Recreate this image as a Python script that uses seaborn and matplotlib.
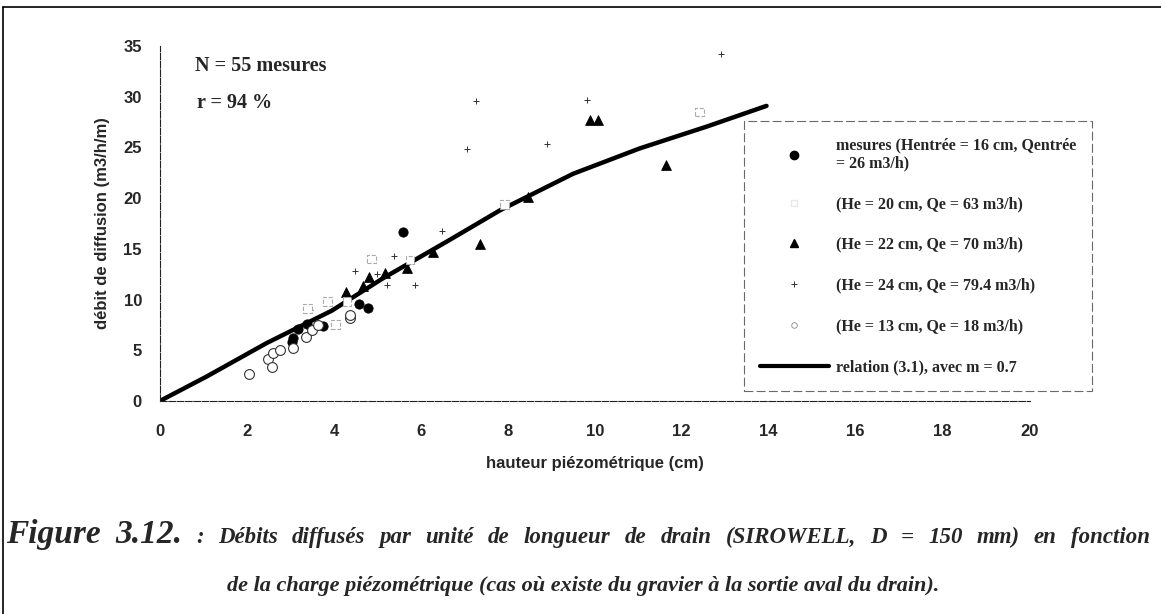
import pandas as pd
import matplotlib.pyplot as plt
import seaborn as sns
from matplotlib.lines import Line2D

# series (x = hauteur piezo cm, y = debit m3/h/m)
mes_x = [3.03, 3.06, 3.18, 3.37, 3.75, 4.58, 4.79, 5.58]
mes_y = [5.85, 6.2, 7.1, 7.56, 7.4, 9.57, 9.2, 16.7]

he20_x = [3.4, 3.85, 4.3, 4.04, 4.87, 5.75, 7.93, 12.41]
he20_y = [9.1, 9.8, 9.8, 7.55, 14.0, 13.9, 19.4, 28.5]

he22_x = [4.28, 4.66, 4.8, 5.17, 5.67, 6.28, 7.36, 8.47, 9.89, 10.08, 11.63]
he22_y = [10.7, 11.3, 12.2, 12.6, 13.1, 14.7, 15.5, 20.1, 27.7, 27.7, 23.3]

he24_x = [3.46, 4.48, 5.0, 5.21, 5.38, 5.86, 6.48, 7.05, 7.26, 8.89, 9.81, 12.91]
he24_y = [9.0, 12.8, 12.5, 11.45, 14.3, 11.4, 16.8, 24.8, 29.6, 25.3, 29.7, 34.2]

he13_x = [2.05, 2.49, 2.57, 2.6, 2.76, 3.05, 3.36, 3.49, 3.64, 4.37, 4.37]
he13_y = [2.65, 4.15, 3.35, 4.7, 5.0, 5.2, 6.3, 7.0, 7.5, 8.2, 8.5]

rel_x = [0, 1.07, 2.45, 3.95, 5.13, 6.63, 7.82, 9.5, 11.03, 12.57, 13.95]
rel_y = [0, 2.4, 5.7, 8.9, 12.1, 15.8, 18.8, 22.4, 24.9, 27.05, 29.1]

labels = ['mesures (Hentrée = 16 cm, Qentrée\n= 26 m3/h)',
          '(He = 20 cm, Qe = 63 m3/h)',
          '(He = 22 cm, Qe = 70 m3/h)',
          '(He = 24 cm, Qe = 79.4 m3/h)',
          '(He = 13 cm, Qe = 18 m3/h)',
          'relation (3.1), avec m = 0.7']

caption1 = ('Débits diffusés par unité de longueur de drain (SIROWELL, '
            'D = 150 mm) en fonction')
caption2 = ('de la charge piézométrique (cas où existe du gravier à la sortie '
            'aval du drain).')

sns.set_style('white')
plt.rcParams['font.family'] = ['Liberation Sans', 'DejaVu Sans']

fig = plt.figure(figsize=(11.61, 6.14), dpi=100)
ax = fig.add_axes([0.1378, 0.347, 0.749, 0.578])

sns.lineplot(x=rel_x, y=rel_y, ax=ax, color='black', lw=3.2, zorder=2)
sns.scatterplot(x=mes_x, y=mes_y, ax=ax, marker='o', s=45, color='black',
                edgecolor='black', zorder=3)
sns.scatterplot(x=he22_x, y=he22_y, ax=ax, marker='^', s=50, color='black',
                edgecolor='black', zorder=3)
sns.scatterplot(x=he24_x, y=he24_y, ax=ax, marker='+', s=25, color='#333333',
                linewidth=0.7, zorder=3)
sns.scatterplot(x=he13_x, y=he13_y, ax=ax, marker='o', s=50, facecolor='white',
                edgecolor='#333333', linewidth=0.8, zorder=3)
sns.scatterplot(x=he20_x, y=he20_y, ax=ax, marker='s', s=40, facecolor='white',
                edgecolor='#aaaaaa', linewidth=0.8, linestyle='--', zorder=4)

ax.set_xlim(0, 20)
ax.set_ylim(0, 35)
ax.set_xticks(range(0, 21, 2))
ax.set_yticks(range(0, 36, 5))
for s in ['top', 'right']:
    ax.spines[s].set_visible(False)
for s in ['left', 'bottom']:
    ax.spines[s].set_color('#222222')
    ax.spines[s].set_linewidth(0.8)
    ax.spines[s].set_linestyle((0, (6, 1.5)))
ax.tick_params(axis='x', direction='inout', length=5, width=0.7, pad=14,
               labelsize=12)
ax.tick_params(axis='y', direction='in', length=3, width=0.7, pad=13,
               labelsize=12)
for t in ax.get_xticklabels() + ax.get_yticklabels():
    t.set_fontweight('bold')
ax.set_xlabel('hauteur piézométrique (cm)', fontsize=12, fontweight='bold',
              labelpad=12)
ax.set_ylabel('débit de diffusion (m3/h/m)', fontsize=12, fontweight='bold',
              labelpad=10)

ax.text(0.8, 33.0, 'N = 55 mesures', fontsize=14.5, fontweight='bold',
        family='Liberation Serif', va='center')
ax.text(0.85, 29.4, 'r = 94 %', fontsize=14.5, fontweight='bold',
        family='Liberation Serif', va='center')

handles = [
    Line2D([], [], ls='none', marker='o', ms=6, color='black'),
    Line2D([], [], ls='none', marker='s', ms=5, mfc='white', mec='#e8e8e8'),
    Line2D([], [], ls='none', marker='^', ms=6, color='black'),
    Line2D([], [], ls='none', marker='+', ms=5, color='#333333', mew=0.7),
    Line2D([], [], ls='none', marker='o', ms=4, mfc='white', mec='#888888',
           mew=0.6),
    Line2D([], [], color='black', lw=3),
]
leg = ax.legend(handles, labels, loc='upper left',
                bbox_to_anchor=(0.634, 0.816), bbox_transform=fig.transFigure,
                prop={'family': 'Liberation Serif', 'weight': 'bold',
                      'size': 11.5},
                handlelength=4.3, handletextpad=0.45, labelspacing=1.55,
                borderpad=1.0, frameon=True, fancybox=False)
leg.get_frame().set_edgecolor('#444444')
leg.get_frame().set_linewidth(0.8)
leg.get_frame().set_linestyle((0, (8, 3)))

# outer frame of the scanned page
fig.add_artist(Line2D([0.003, 1.0], [0.988, 0.988], color='black', lw=1.2,
                      transform=fig.transFigure))
fig.add_artist(Line2D([0.003, 0.003], [0.0, 0.988], color='black', lw=1.2,
                      transform=fig.transFigure))

# caption, first line justified between the page margins
cap_style = dict(fontweight='bold', style='italic', family='Liberation Serif',
                 va='baseline')
renderer = fig.canvas.get_renderer()
words = [('Figure', 24), ('3.12.', 24), (':', 16.5)] + \
        [(w, 16.5) for w in caption1.split(' ')]
W = fig.get_figwidth() * fig.dpi
x_left, x_right = 6.0, 1150.0
texts = []
for w, size in words:
    t = fig.text(0, 0.115, w, fontsize=size, **cap_style)
    texts.append(t)
widths = [t.get_window_extent(renderer).width for t in texts]
gap = (x_right - x_left - sum(widths)) / (len(texts) - 1)
x = x_left
for t, wd in zip(texts, widths):
    t.set_x(x / W)
    x += wd + gap

fig.text(0.502, 0.037, caption2, fontsize=16, ha='center', **cap_style)

plt.savefig('out.png', dpi=100)
